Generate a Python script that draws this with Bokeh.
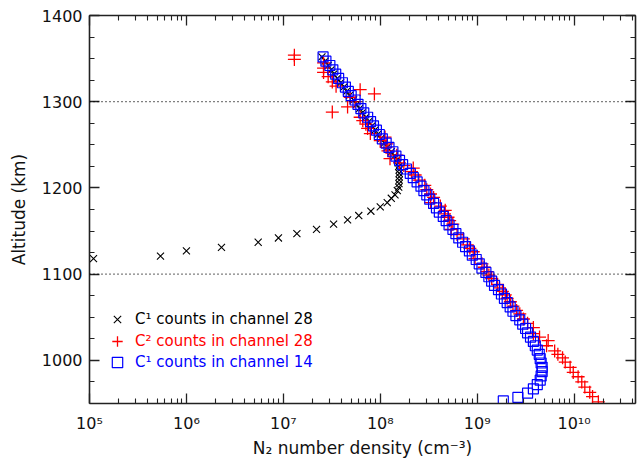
from bokeh.plotting import figure
from bokeh.models import (Span, Legend, LegendItem, FixedTicker, LinearAxis, LogAxis,
                          CustomJSTickFormatter, Range1d)
from bokeh.embed import file_html
from bokeh.resources import INLINE

# ---- data ----
alt_c1_ch28 = [1352, 1347, 1342, 1337, 1332, 1327, 1322, 1317, 1312, 1307, 1302, 1297, 1292,
               1287, 1282, 1277, 1272, 1267, 1262, 1257, 1252, 1247, 1242, 1237, 1233, 1229,
               1225, 1221, 1217, 1213, 1209, 1205, 1201, 1197, 1192, 1188, 1183, 1178, 1173,
               1168, 1163, 1158, 1152, 1147, 1142, 1137, 1131, 1127, 1121, 1118]
n_c1_ch28 = [2.5e7, 2.7e7, 2.9e7, 3.1e7, 3.3e7, 3.6e7, 3.9e7, 4.2e7, 4.5e7, 4.8e7, 5.3e7, 5.7e7,
             6.1e7, 6.5e7, 7.1e7, 7.6e7, 8.2e7, 8.8e7, 9.4e7, 1.01e8, 1.1e8, 1.18e8, 1.3e8,
             1.4e8, 1.5e8, 1.53e8, 1.55e8, 1.57e8, 1.57e8, 1.57e8, 1.57e8, 1.56e8, 1.55e8,
             1.5e8, 1.42e8, 1.3e8, 1.18e8, 1.0e8, 8.0e7, 6.0e7, 4.6e7, 3.3e7, 2.2e7, 1.38e7,
             8.9e6, 5.5e6, 2.3e6, 1.0e6, 5.4e5, 1.1e5]

alt_c2_ch28 = [1354, 1349, 1345, 1339, 1334, 1329, 1323, 1318, 1314, 1309, 1305, 1300, 1294,
               1288, 1282, 1278, 1274, 1269, 1263, 1259, 1255, 1251, 1247, 1243, 1238, 1234,
               1229, 1226, 1223, 1219, 1215, 1209, 1203, 1198, 1193, 1189, 1183, 1179, 1174,
               1170, 1166, 1162, 1158, 1152, 1146, 1141, 1134, 1130, 1126, 1118, 1112, 1108,
               1103, 1099, 1095, 1088, 1084, 1080, 1076, 1072, 1068, 1063, 1058, 1054, 1048,
               1043, 1038, 1031, 1027, 1023, 1017, 1011, 1007, 1003, 998, 992, 986, 981, 975,
               969, 963, 958, 952]
n_c2_ch28 = [1.3e7, 1.3e7, 2.6e7, 2.6e7, 2.6e7, 2.9e7, 3.2e7, 3.5e7, 6.2e7, 8.7e7, 4.9e7, 5.5e7,
             4.6e7, 3.2e7, 6.2e7, 6.6e7, 7.1e7, 7.4e7, 7.9e7, 1.12e8, 1.0e8, 1.17e8, 1.15e8,
             1.2e8, 1.48e8, 1.26e8, 1.58e8, 1.75e8, 2.19e8, 2.1e8, 2.29e8, 2.5e8, 2.88e8, 3.02e8,
             3.3e8, 3.55e8, 3.31e8, 4.17e8, 4.68e8, 4.6e8, 5.0e8, 5.2e8, 5.6e8, 5.4e8, 6.2e8,
             7.2e8, 7.9e8, 8.4e8, 9.1e8, 9.5e8, 1.12e9, 1.18e9, 1.26e9, 1.32e9, 1.41e9, 1.62e9,
             1.7e9, 1.82e9, 1.95e9, 2.04e9, 2.2e9, 2.34e9, 2.55e9, 2.75e9, 3.0e9, 3.31e9, 3.8e9,
             3.8e9, 4.4e9, 5.4e9, 5.2e9, 6.3e9, 6.8e9, 7.6e9, 8.1e9, 9.1e9, 9.8e9, 1.1e10,
             1.2e10, 1.29e10, 1.45e10, 1.55e10, 1.78e10]

alt_c1_ch14 = [1352, 1347, 1342, 1337, 1332, 1327, 1322, 1317, 1312, 1307, 1302, 1297, 1292,
               1287, 1282, 1277, 1272, 1267, 1262, 1257, 1252, 1247, 1242, 1237, 1232, 1227,
               1222, 1217, 1212, 1207, 1202, 1197, 1192, 1187, 1182, 1177, 1172, 1167, 1162,
               1157, 1152, 1147, 1142, 1137, 1132, 1127, 1122, 1117, 1112, 1107, 1102, 1097,
               1092, 1087, 1082, 1077, 1072, 1067, 1062, 1057, 1052, 1047, 1042, 1037, 1032,
               1027, 1022, 1017, 1012, 1007, 1002, 997, 992, 987, 982, 977, 972, 967, 962, 957,
               953]
n_c1_ch14 = [2.57e7, 2.75e7, 3.02e7, 3.24e7, 3.47e7, 3.72e7, 4.07e7, 4.37e7, 4.68e7, 5.01e7,
             5.5e7, 5.89e7, 6.31e7, 6.76e7, 7.41e7, 7.94e7, 8.51e7, 9.12e7, 9.77e7, 1.05e8,
             1.15e8, 1.23e8, 1.35e8, 1.45e8, 1.58e8, 1.7e8, 1.86e8, 2.04e8, 2.19e8, 2.4e8,
             2.63e8, 2.82e8, 3.02e8, 3.24e8, 3.55e8, 3.8e8, 4.07e8, 4.47e8, 4.79e8, 5.13e8,
             5.62e8, 6.03e8, 6.46e8, 7.08e8, 7.59e8, 8.32e8, 8.91e8, 9.77e8, 1.05e9, 1.12e9,
             1.23e9, 1.32e9, 1.41e9, 1.51e9, 1.66e9, 1.78e9, 1.91e9, 2.04e9, 2.19e9, 2.34e9,
             2.51e9, 2.75e9, 2.95e9, 3.16e9, 3.31e9, 3.55e9, 3.8e9, 3.98e9, 4.17e9, 4.37e9,
             4.47e9, 4.57e9, 4.68e9, 4.68e9, 4.57e9, 4.47e9, 4.17e9, 3.8e9, 3.31e9, 2.63e9,
             1.86e9]

x_ticks = [1e5, 1e6, 1e7, 1e8, 1e9, 1e10]
x_tick_labels = ["10\u2075", "10\u2076", "10\u2077", "10\u2078", "10\u2079", "10\u00b9\u2070"]
y_ticks = [1000, 1100, 1200, 1300, 1400]
dotted_levels = [1100, 1300]

FONT = "DejaVu Sans"

p = figure(width=640, height=460, x_axis_type="log", output_backend="svg",
           toolbar_location=None, x_range=Range1d(1e5, 4.3e10), y_range=Range1d(950, 1400),
           min_border_left=89, min_border_right=5, min_border_top=15, min_border_bottom=52)
p.grid.visible = False
p.outline_line_color = None
p.background_fill_color = "white"

x_minor = [m * d for d in [1e4] + x_ticks for m in range(2, 10)]
y_minor = list(range(950, 1401, 25))

xt = FixedTicker(ticks=x_ticks, minor_ticks=x_minor)
yt = FixedTicker(ticks=y_ticks, minor_ticks=y_minor)


def style(ax, labels=True):
    ax.axis_line_color = "#222222"
    ax.axis_line_width = 1.6
    ax.major_tick_in = 10
    ax.major_tick_out = 0
    ax.minor_tick_in = 5
    ax.minor_tick_out = 0
    ax.major_tick_line_color = "#222222"
    ax.minor_tick_line_color = "#222222"
    ax.major_tick_line_width = 1.3
    ax.minor_tick_line_width = 1.1
    ax.major_label_text_font = FONT
    ax.major_label_text_font_size = "16px"
    ax.major_label_text_color = "#111111"
    ax.axis_label_text_font = FONT
    ax.axis_label_text_font_size = "17px"
    ax.axis_label_text_font_style = "normal"
    ax.axis_label_text_color = "#111111"
    if not labels:
        ax.formatter = CustomJSTickFormatter(code="return ''")
        ax.major_label_standoff = 0


xa = p.xaxis[0]
xa.ticker = xt
xa.major_label_overrides = dict(zip(x_ticks, x_tick_labels))
xa.axis_label = "N\u2082 number density (cm\u207b\u00b3)"
style(xa)
xa.major_label_standoff = 10
xa.axis_label_standoff = 2

ya = p.yaxis[0]
ya.ticker = yt
ya.axis_label = "Altitude (km)"
style(ya)
ya.major_label_standoff = 7
ya.axis_label_standoff = 10

top = LogAxis(ticker=xt)
style(top, labels=False)
p.add_layout(top, "above")
right = LinearAxis(ticker=yt)
style(right, labels=False)
p.add_layout(right, "right")

for lvl in dotted_levels:
    p.add_layout(Span(location=lvl, dimension="width", line_color="black",
                      line_dash="1 3", line_width=1.2))

r1 = p.scatter(n_c1_ch28, alt_c1_ch28, marker="x", size=10, line_color="black", line_width=1.1)
r2 = p.scatter(n_c2_ch28, alt_c2_ch28, marker="cross", size=13, line_color="red", line_width=1.3)
r3 = p.scatter(n_c1_ch14, alt_c1_ch14, marker="square", size=10, line_color="blue",
               fill_color=None, line_width=1.2)

legend_rows = [("C\u00b9 counts in channel 28", r1, "black", 71),
               ("C\u00b2 counts in channel 28", r2, "red", 49),
               ("C\u00b9 counts in channel 14", r3, "blue", 28)]
for label, r, col, yoff in legend_rows:
    lg = Legend(items=[LegendItem(label=label, renderers=[r])], location=(15, yoff),
                glyph_width=26, glyph_height=26, label_standoff=5, padding=0, margin=0,
                spacing=0, background_fill_alpha=0, border_line_alpha=0,
                label_text_color=col, label_text_font=FONT, label_text_font_size="15px",
                label_height=16)
    p.add_layout(lg, "center")

open("out.html", "w").write(file_html(p, INLINE))
